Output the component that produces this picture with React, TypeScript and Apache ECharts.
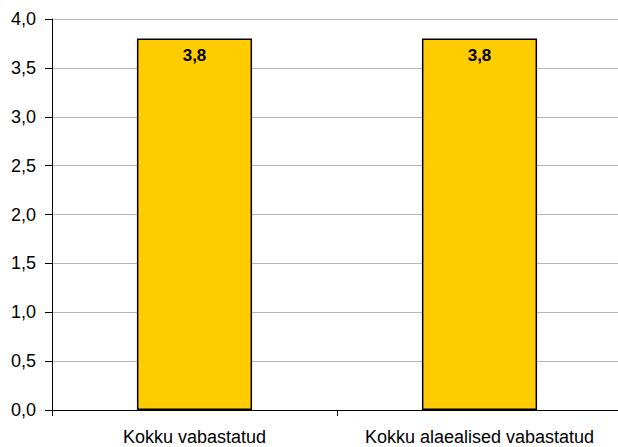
import React, { useEffect, useRef } from "react";
import * as echarts from "echarts";

const categories = ["Kokku vabastatud", "Kokku alaealised vabastatud"];
const values = [3.8, 3.8];
const yMin = 0;
const yMax = 4;
const yStep = 0.5;

const FONT = "Liberation Sans, Arial, sans-serif";

export default function App() {
  const ref = useRef<HTMLDivElement>(null);
  useEffect(() => {
    document.body.style.margin = "0";
    const chart = echarts.init(ref.current!, null, { renderer: "svg" });
    chart.setOption({
      animation: false,
      backgroundColor: "#ffffff",
      textStyle: { fontFamily: FONT },
      grid: { left: 52, top: 19, width: 570, height: 391, containLabel: false },
      xAxis: {
        type: "category",
        data: categories,
        axisLine: { lineStyle: { color: "#000", width: 1 } },
        axisTick: { show: true, length: 6, interval: 0, alignWithLabel: false, lineStyle: { color: "#000" } },
        axisLabel: { color: "#000", fontSize: 18, margin: 18, interval: 0, hideOverlap: false, fontFamily: FONT },
        splitLine: { show: false },
      },
      yAxis: {
        type: "value",
        min: yMin,
        max: yMax,
        interval: yStep,
        axisLine: { show: true, lineStyle: { color: "#000", width: 1 } },
        axisTick: { show: true, length: 7, lineStyle: { color: "#000" } },
        axisLabel: {
          color: "#000",
          fontSize: 18,
          margin: 16,
          fontFamily: FONT,
          formatter: (v: number) => v.toFixed(1).replace(".", ","),
        },
        splitLine: { show: true, lineStyle: { color: "#b4b4b4", width: 1 } },
      },
      series: [
        {
          type: "bar",
          data: values,
          barWidth: "40.4%",
          itemStyle: { color: "#FFCC00", borderColor: "#000", borderWidth: 1.5 },
          label: {
            show: true,
            position: "insideTop",
            distance: 8,
            color: "#000",
            fontWeight: "bold",
            fontSize: 17,
            fontFamily: FONT,
            formatter: (p: any) => Number(p.value).toFixed(1).replace(".", ","),
          },
        },
      ],
    });
    return () => chart.dispose();
  }, []);
  return (
    <div style={{ width: 618, height: 447, overflow: "hidden", position: "relative" }}>
      <div ref={ref} style={{ width: 640, height: 447 }} />
    </div>
  );
}
